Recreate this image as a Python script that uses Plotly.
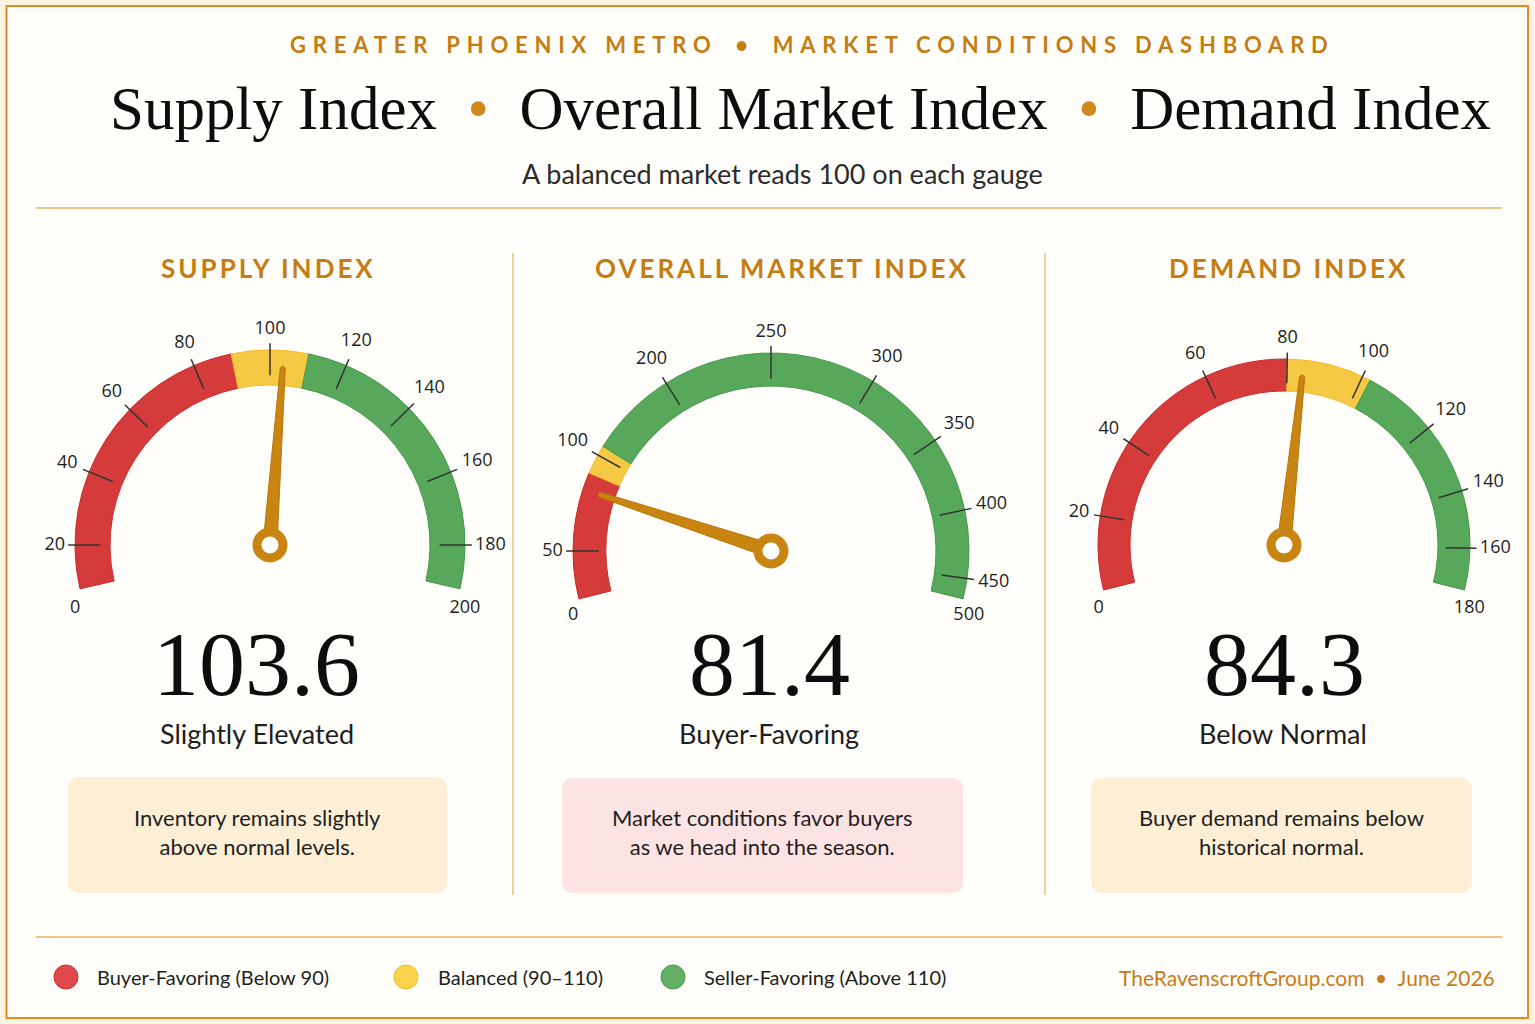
import numpy as np
import plotly.graph_objects as go

W, H = 1535, 1024

# ---------------- data ----------------
panel_titles = ["SUPPLY INDEX", "OVERALL MARKET INDEX", "DEMAND INDEX"]
index_values = [103.6, 81.4, 84.3]
status_labels = ["Slightly Elevated", "Buyer-Favoring", "Below Normal"]
note_texts = [
    "Inventory remains slightly<br>above normal levels.",
    "Market conditions favor buyers<br>as we head into the season.",
    "Buyer demand remains below<br>historical normal.",
]
supply_ticks = [0, 20, 40, 60, 80, 100, 120, 140, 160, 180, 200]
overall_ticks = [0, 50, 100, 200, 250, 300, 350, 400, 450, 500]
demand_ticks = [0, 20, 40, 60, 80, 100, 120, 140, 160, 180]
supply_zone_edges = [90, 110]
overall_zone_edges = [90, 110]
demand_zone_edges = [80, 102]
zone_labels = ["Buyer-Favoring (Below 90)", "Balanced (90–110)", "Seller-Favoring (Above 110)"]
header_text = "GREATER PHOENIX METRO\u2002•\u2002MARKET CONDITIONS DASHBOARD"
title_text = ("Supply Index\u2002<span style='color:#D08A1C'>•</span>\u2002"
              "Overall Market Index\u2002<span style='color:#D08A1C'>•</span>\u2002Demand Index")
subtitle_text = "A balanced market reads 100 on each gauge"
footer_text = "TheRavenscroftGroup.com\u2002•\u2002June 2026"

# ---------------- styles / layout ----------------
ZONE_COLORS = ["#D63B3B", "#F6C944", "#57A85B"]
ZONE_EDGE = ["#C92B2B", "#EDBB2A", "#449A49"]
LEGEND_COLORS = ["#E04A4A", "#FDD24C", "#63AF66"]
ORANGE = "#C47D12"
NEEDLE = "#C98512"
SERIF = "Liberation Serif, Times New Roman, serif"
SANS = "Lato, Noto Sans, sans-serif"
TICKF = "Open Sans, Noto Sans, sans-serif"
TICK_SIZE = 18
RMAX = 1.25               # radial axis range (band outer edge = 1)
POLAR_SECTOR = (-32, 212)  # drawing area of each gauge subplot
TICK_IN, TICK_OUT = 0.87, 1.035

gauges = [
    dict(ticks=supply_ticks, edges=supply_zone_edges, value=index_values[0],
         cx=270, cy=545, R=195, band=35, arc=(-13, 193),
         tick_angles=[198, 180, 158, 136, 113, 90, 67, 44.5, 22, 0, -18]),
    dict(ticks=overall_ticks, edges=overall_zone_edges, value=index_values[1],
         cx=771, cy=551, R=198, band=33, arc=(-14, 194),
         tick_angles=[198, 180, 151, 122, 90, 59, 34, 12, -8, -18]),
    dict(ticks=demand_ticks, edges=demand_zone_edges, value=index_values[2],
         cx=1284, cy=545, R=186, band=32, arc=(-14, 194),
         tick_angles=[199, 171, 146.5, 115, 89, 65, 39, 17, -1, -19]),
]


def polar_domain(cx, cy, Rpx, s0, s1):
    cand = [s0, s1] + [a for a in (-90, 0, 90, 180, 270) if s0 <= a <= s1]
    xs = [np.cos(np.radians(a)) for a in cand] + [0]
    ys = [np.sin(np.radians(a)) for a in cand] + [0]
    x0, x1 = cx + Rpx * min(xs), cx + Rpx * max(xs)
    ytop, ybot = cy - Rpx * max(ys), cy - Rpx * min(ys)
    return dict(x=[x0 / W, x1 / W], y=[1 - ybot / H, 1 - ytop / H])


fig = go.Figure()
# invisible trace to anchor the full-canvas cartesian axes (pixel space)
fig.add_trace(go.Scatter(x=[None], y=[None], showlegend=False, hoverinfo="skip"))

layout_polars = {}
for gi, g in enumerate(gauges):
    pid = "polar" if gi == 0 else f"polar{gi + 1}"
    sub = pid
    R = g["R"]
    r_in = 1 - g["band"] / R

    def ang(v, g=g):
        return float(np.interp(v, g["ticks"], g["tick_angles"]))

    s_lo, s_hi = g["arc"]
    bounds = [s_hi, ang(g["edges"][0]), ang(g["edges"][1]), s_lo]
    for zi in range(3):
        a0, a1 = bounds[zi], bounds[zi + 1]
        fig.add_trace(go.Barpolar(
            r=[1 - r_in], base=[r_in], theta=[(a0 + a1) / 2], width=[a0 - a1],
            marker=dict(color=ZONE_COLORS[zi], line=dict(color=ZONE_EDGE[zi], width=1)),
            subplot=sub, showlegend=False, hoverinfo="skip"))

    # tick marks (interior ticks)
    tr, tt = [], []
    for v in g["ticks"][1:-1]:
        a = ang(v)
        tr += [TICK_IN, TICK_OUT, None]
        tt += [a, a, None]
    fig.add_trace(go.Scatterpolar(r=tr, theta=tt, mode="lines",
                                  line=dict(color="#333333", width=1.5),
                                  subplot=sub, showlegend=False, hoverinfo="skip"))
    # tick labels: pushed clear of the tick marks according to the text extent
    lr, lt = [], []
    n = len(g["ticks"])
    for i, v in enumerate(g["ticks"]):
        a = ang(v)
        lt.append(a)
        if i in (0, n - 1):
            lr.append(1 + 10 / R)
        else:
            hw = 0.29 * TICK_SIZE * len(str(v))
            hh = 0.6 * TICK_SIZE
            off = (TICK_OUT - 1) * R + 3 + hw * abs(np.cos(np.radians(a))) \
                + hh * abs(np.sin(np.radians(a)))
            lr.append(1 + off / R)
    fig.add_trace(go.Scatterpolar(r=lr, theta=lt, mode="text",
                                  text=[str(v) for v in g["ticks"]],
                                  textfont=dict(family=TICKF, size=TICK_SIZE, color="#1e1e1e"),
                                  subplot=sub, showlegend=False, hoverinfo="skip"))
    # needle (tapered polygon)
    a = ang(g["value"])
    L = 0.91 * R
    tipw = 2.5
    basew = 7.0
    dtip = np.degrees(np.arctan(tipw / L))
    nr = [basew / R, np.hypot(L, tipw) / R, (L + 2) / R, np.hypot(L, tipw) / R, basew / R, basew / R]
    nt = [a + 90, a + dtip, a, a - dtip, a - 90, a + 90]
    fig.add_trace(go.Scatterpolar(r=nr, theta=nt, mode="lines", fill="toself",
                                  fillcolor=NEEDLE, line=dict(color="#B87508", width=1),
                                  subplot=sub, showlegend=False, hoverinfo="skip"))
    # hub
    fig.add_trace(go.Scatterpolar(r=[0], theta=[0], mode="markers",
                                  marker=dict(size=26, color="#FFFFFF",
                                              line=dict(color=NEEDLE, width=9)),
                                  subplot=sub, showlegend=False, hoverinfo="skip"))

    layout_polars[pid] = dict(
        domain=polar_domain(g["cx"], g["cy"], R * RMAX, *POLAR_SECTOR),
        sector=list(POLAR_SECTOR),
        bgcolor="rgba(0,0,0,0)",
        radialaxis=dict(range=[0, RMAX], visible=False, showgrid=False, showline=False,
                        showticklabels=False, ticks=""),
        angularaxis=dict(visible=False, showgrid=False, showline=False, ticks="",
                         showticklabels=False, rotation=0, direction="counterclockwise",
                         thetaunit="degrees"),
    )

# ---------------- shapes ----------------
shapes = []
shapes.append(dict(type="rect", x0=6.5, y0=6, x1=1528, y1=1018, xref="x", yref="y",
                   fillcolor="#FFFEFA", line=dict(color="#E28B26", width=2), layer="below"))
for yy in (208, 937):
    shapes.append(dict(type="line", x0=36, x1=1502, y0=yy, y1=yy, xref="x", yref="y",
                       line=dict(color="#E9B060", width=1.5), layer="below"))
for xx in (513, 1045):
    shapes.append(dict(type="line", x0=xx, x1=xx, y0=253, y1=895, xref="x", yref="y",
                       line=dict(color="#EDBE7C", width=1.5), layer="below"))


def rounded_rect(x0, y0, x1, y1, r):
    return (f"M {x0 + r},{y0} L {x1 - r},{y0} Q {x1},{y0} {x1},{y0 + r} "
            f"L {x1},{y1 - r} Q {x1},{y1} {x1 - r},{y1} L {x0 + r},{y1} "
            f"Q {x0},{y1} {x0},{y1 - r} L {x0},{y0 + r} Q {x0},{y0} {x0 + r},{y0} Z")


boxes = [(68, 777, 447, 893, "#FDEFD6"), (562, 778, 963, 893, "#FDE3E3"),
         (1091, 778, 1472, 893, "#FDEFD6")]
for (x0, y0, x1, y1, c) in boxes:
    shapes.append(dict(type="path", path=rounded_rect(x0, y0, x1, y1, 12), xref="x", yref="y",
                       fillcolor=c, line=dict(width=0), layer="below"))

legend_x = [66, 406, 673]
for i, lx in enumerate(legend_x):
    shapes.append(dict(type="circle", x0=lx - 12, x1=lx + 12, y0=965, y1=989, xref="x", yref="y",
                       fillcolor=LEGEND_COLORS[i], line=dict(color=ZONE_EDGE[i], width=1),
                       layer="below"))

# ---------------- annotations ----------------
anns = []


def ann(text, x, y, size, color, family, xanchor="center", yanchor="middle", weight=None):
    font = dict(size=size, color=color, family=family)
    if weight:
        font["weight"] = weight
    anns.append(dict(text=text, x=x, y=y, xref="x", yref="y", showarrow=False,
                     xanchor=xanchor, yanchor=yanchor, font=font))


def spaced(t, px):
    return f"<span style='letter-spacing:{px}px'>{t}</span>"


ann(spaced(header_text, 6.8), 812, 44, 22, ORANGE, SANS, weight=700)
ann(title_text, 800, 108, 61, "#0d0d0d", SERIF)
ann(subtitle_text, 782, 173, 27, "#2b2b2b", SANS)

title_x = [268, 782, 1288]
num_x = [256, 769, 1284]
status_x = [257, 769, 1283]
note_x = [257.5, 762.5, 1281.5]
for i in range(3):
    ann(spaced(panel_titles[i], 3), title_x[i], 268, 26, ORANGE, SANS, weight=700)
    ann(f"{index_values[i]:.1f}", num_x[i], 664, 92, "#0d0d0d", SERIF)
    ann(status_labels[i], status_x[i], 733, 27, "#1e1e1e", SANS)
    ann(note_texts[i], note_x[i], 832, 22, "#1e1e1e", SANS)

legend_tx = [95, 436, 702]
for i in range(3):
    ann(zone_labels[i], legend_tx[i], 977, 20, "#1e1e1e", SANS, xanchor="left")
ann(footer_text, 1497, 977, 21, "#C97B17", SANS, xanchor="right")

fig.update_layout(
    width=W, height=H, margin=dict(l=0, r=0, t=0, b=0, pad=0),
    paper_bgcolor="#FCF3E1", plot_bgcolor="rgba(0,0,0,0)",
    showlegend=False,
    xaxis=dict(range=[0, W], domain=[0, 1], visible=False, fixedrange=True),
    yaxis=dict(range=[H, 0], domain=[0, 1], visible=False, fixedrange=True),
    shapes=shapes, annotations=anns,
    **layout_polars,
)

fig.write_html("out.html")
